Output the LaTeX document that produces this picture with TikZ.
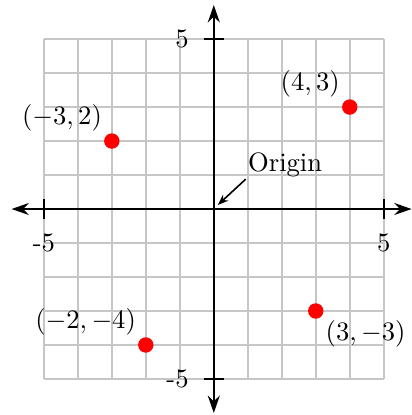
\documentclass[tikz,border=0pt]{standalone}
\usepackage{amsmath}
\usetikzlibrary{arrows.meta, positioning}

\begin{document}
\begin{tikzpicture}[> = {Stealth[length=6.5pt, width=4.5pt]}, x = 0.449cm, y = 0.449cm, thick,
    gridline/.style = {gray!45, line width=0.75pt},
    dot/.style = {circle, fill=red, inner sep=0pt, minimum size=5.8pt}]
    \useasboundingbox (-6.29,-6.06) rectangle (5.82,6.15);
    \draw[gridline, step={(1,1)}] (-5,-5) grid (5,5);

    \coordinate (W) at (-5.95,0);
    \coordinate (E) at (5.82,0);
    \coordinate (S) at (0,-6);
    \coordinate (N) at (0,6);
    \draw[<->] (W) -- (E);
    \draw[<->] (S) -- (N);

    % ticks and their labels
    \foreach \v in {-5,5} {
        \draw (\v,-0.3) -- (\v,0.3);
        \draw (-0.3,\v) -- (0.3,\v);
    }
    \node[below] (xmin) at (-5,-0.45) {-5};
    \node[below] (xmax) at (5,-0.45) {5};
    \node[left] (ymin) at (-0.45,-5) {-5};
    \node[left] (ymax) at (-0.45,5) {5};

    % points
    \node[dot] (a) at (-3,2) {};
    \node[dot] (b) at (4,3) {};
    \node[dot] (c) at (-2,-4) {};
    \node[dot] (d) at (3,-3) {};
    \node[above left] (la) at (a.center) {\((-3,2)\)};
    \node[above left] (lb) at (b.center) {\((4,3)\)};
    \node[above left] (lc) at (c.center) {\((-2,-4)\)};
    \node[below right] (ld) at (d.center) {\((3,-3)\)};

    % origin
    \coordinate (O) at (0.12,0.12);
    \coordinate (tail) at (0.94,0.88);
    \node (orig) at (2.1,1.3) {Origin};
    \draw[-{Stealth[length=4pt, width=3pt]}, semithick] (tail) -- (O);
\end{tikzpicture}
\end{document}
